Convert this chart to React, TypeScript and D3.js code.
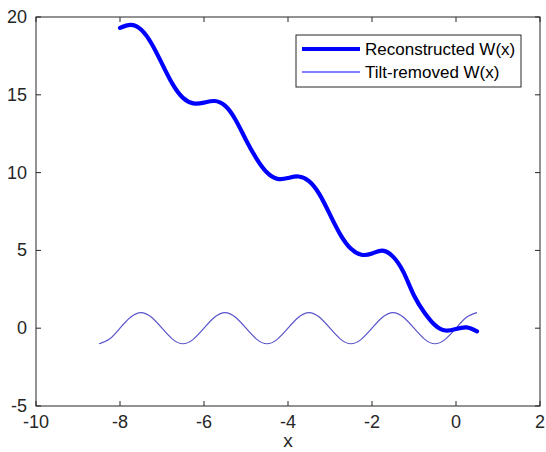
import React from "react";
import * as d3 from "d3";

const xTicks = [-10, -8, -6, -4, -2, 0, 2];
const yTicks = [-5, 0, 5, 10, 15, 20];

const reconX = [-8, -7.75, -7.5, -7.25, -7, -6.75, -6.5, -6.25, -6, -5.75, -5.5, -5.25, -5, -4.75, -4.5, -4.25, -4, -3.75, -3.5, -3.25, -3, -2.75, -2.5, -2.25, -2, -1.75, -1.5, -1.25, -1, -0.75, -0.5, -0.25, 0, 0.25, 0.5];
const reconY = [19.3, 19.5, 19.2, 18.3, 17.0, 15.7, 14.8, 14.45, 14.5, 14.6, 14.3, 13.4, 12.1, 10.9, 10.0, 9.6, 9.65, 9.75, 9.45, 8.6, 7.3, 6.0, 5.1, 4.72, 4.8, 4.98, 4.6, 3.6, 2.1, 1.0, 0.2, -0.15, -0.05, 0.05, -0.2];

const tiltX = [-8.5, -8.25, -8, -7.75, -7.5, -7.25, -7, -6.75, -6.5, -6.25, -6, -5.75, -5.5, -5.25, -5, -4.75, -4.5, -4.25, -4, -3.75, -3.5, -3.25, -3, -2.75, -2.5, -2.25, -2, -1.75, -1.5, -1.25, -1, -0.75, -0.5, -0.25, 0, 0.25, 0.5];
const tiltY = [-1, -0.7, 0, 0.7, 1, 0.7, 0, -0.7, -1, -0.7, 0, 0.7, 1, 0.7, 0, -0.7, -1, -0.7, 0, 0.7, 1, 0.7, 0, -0.7, -1, -0.7, 0, 0.7, 1, 0.7, 0, -0.7, -1, -0.7, 0, 0.7, 1];

const legendLabels = ["Reconstructed W(x)", "Tilt-removed W(x)"];

const W = 546, H = 452;
const L = 36, R = 540, T = 17, B = 406;
const axisColor = "#262626";
const font = "'Liberation Sans', Arial, Helvetica, sans-serif";

export default function App() {
  const x = d3.scaleLinear().domain([-10, 2]).range([L, R]);
  const y = d3.scaleLinear().domain([-5, 20]).range([B, T]);
  const line = d3.line<[number, number]>().x(d => x(d[0])).y(d => y(d[1])).curve(d3.curveNatural);
  const recon = line(reconX.map((v, i) => [v, reconY[i]] as [number, number])) || "";
  const tilt = line(tiltX.map((v, i) => [v, tiltY[i]] as [number, number])) || "";
  const tl = 5;
  return (
    <svg width={W} height={H} style={{ position: "absolute", left: 0, top: 0, background: "#fff" }}>
      <rect x={0} y={0} width={W} height={H} fill="#fff" />
      <path d={tilt} fill="none" stroke="#5a55cc" strokeWidth={1.2} />
      <path d={recon} fill="none" stroke="#0000ff" strokeWidth={4.2} strokeLinecap="round" strokeLinejoin="round" />
      <rect x={L} y={T} width={R - L} height={B - T} fill="none" stroke={axisColor} strokeWidth={1} />
      {xTicks.map(t => (
        <g key={"x" + t}>
          <line x1={x(t)} x2={x(t)} y1={B} y2={B - tl} stroke={axisColor} />
          <line x1={x(t)} x2={x(t)} y1={T} y2={T + tl} stroke={axisColor} />
          <text x={x(t)} y={B + 22} textAnchor="middle" fontFamily={font} fontSize={18} fill={axisColor}>{t}</text>
        </g>
      ))}
      {yTicks.map(t => (
        <g key={"y" + t}>
          <line x1={L} x2={L + tl} y1={y(t)} y2={y(t)} stroke={axisColor} />
          <line x1={R} x2={R - tl} y1={y(t)} y2={y(t)} stroke={axisColor} />
          <text x={L - 9} y={y(t) + 6} textAnchor="end" fontFamily={font} fontSize={18} fill={axisColor}>{t}</text>
        </g>
      ))}
      <text x={(L + R) / 2} y={447} textAnchor="middle" fontFamily={font} fontSize={19} fill={axisColor}>x</text>
      <rect x={296} y={35} width={225} height={52} fill="#fff" stroke={axisColor} strokeWidth={1} />
      <line x1={302} x2={360} y1={49} y2={49} stroke="#0000ff" strokeWidth={4} />
      <line x1={302} x2={360} y1={72} y2={72} stroke="#0000ff" strokeWidth={1} />
      <text x={365} y={55} fontFamily={font} fontSize={17} fill="#000">{legendLabels[0]}</text>
      <text x={365} y={78} fontFamily={font} fontSize={17} fill="#000">{legendLabels[1]}</text>
    </svg>
  );
}
